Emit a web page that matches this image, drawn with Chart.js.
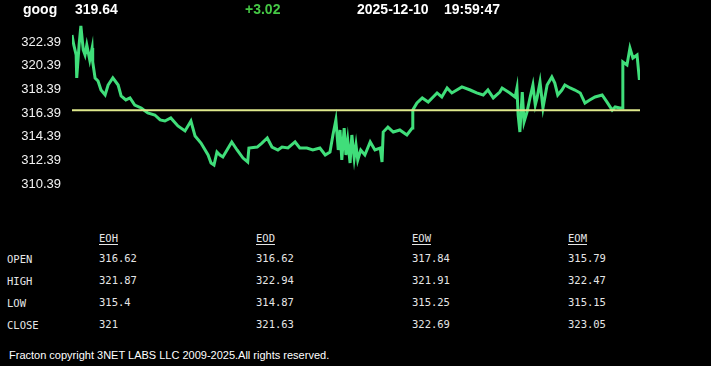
<!DOCTYPE html>
<html>
<head>
<meta charset="utf-8">
<script src="https://cdn.jsdelivr.net/npm/chart.js@4.4.1/dist/chart.umd.min.js"></script>
<style>
  html, body { margin: 0; padding: 0; background: #000; width: 711px; height: 366px; overflow: hidden; }
  #wrap { position: relative; width: 711px; height: 366px; }
  #chart { position: absolute; left: 0; top: 0; }
  .hd { position: absolute; top: 0; font: bold 14px "Liberation Sans", Arial, sans-serif; color: #fff; line-height: 18px; white-space: nowrap; }
  .tb { position: absolute; font: 10.5px "DejaVu Sans Mono", monospace; color: #e6e6e6; line-height: 14px; white-space: nowrap; }
  .tb.col { text-decoration: underline; text-underline-offset: 2px; }
  #foot { position: absolute; left: 9px; top: 348px; font: 11px "Liberation Sans", Arial, sans-serif; color: #fff; line-height: 14px; white-space: nowrap; }
</style>
</head>
<body>
<div id="wrap">
  <canvas id="chart" width="711" height="210"></canvas>
  <div class="hd" style="left:23px">goog</div>
  <div class="hd" style="left:75px">319.64</div>
  <div class="hd" style="left:245px;color:#45c845">+3.02</div>
  <div class="hd" style="left:357px">2025-12-10</div>
  <div class="hd" style="left:444px">19:59:47</div>
  <div id="table"></div>
  <div id="foot">Fracton copyright 3NET LABS LLC 2009-2025.All rights reserved.</div>
</div>
<script>
  // minutes since 04:00
  var times = [0, 3, 7, 8, 12, 15, 19, 22, 25, 30, 34, 35, 39, 44, 49, 56, 61, 69, 78, 83,
    91, 98, 106, 117, 128, 140, 149, 157, 167, 179, 191, 201, 208, 218, 230, 235, 240, 245, 250, 255,
    262, 270, 279, 289, 297, 299, 313, 321, 330, 338, 348, 355, 365, 377, 385, 397, 407, 419, 428, 436,
    441, 446, 450, 453, 456, 460, 463, 466, 470, 473, 477, 480, 483, 488, 495, 504, 512, 521, 524, 526,
    534, 543, 554, 566, 575, 576, 583, 592, 602, 617, 625, 634, 642, 659, 673, 684, 695, 703, 712, 723,
    727, 740, 749, 752, 754, 757, 761, 764, 769, 774, 779, 783, 786, 791, 796, 803, 811, 816, 821, 828,
    833, 842, 850, 859, 867, 875, 884, 896, 904, 913, 918, 926, 930, 931, 938, 943, 948, 955, 959];
  var prices = [322.98, 322.14, 321.29, 319.35, 322.14, 323.74, 321.71, 321.29, 322.14, 320.87, 321.88, 320.70, 319.35, 319.09, 318.33, 317.91, 318.75, 319.35, 318.75, 317.83,
    317.49, 317.66, 317.06, 316.81, 316.39, 316.22, 315.80, 315.71, 315.97, 315.29, 314.87, 315.71, 314.44, 313.85, 312.84, 312.16, 311.99, 313.09, 312.84, 312.67,
    313.26, 313.94, 313.26, 312.58, 312.25, 313.43, 313.51, 313.85, 314.28, 313.51, 313.26, 313.51, 313.43, 313.94, 313.43, 313.43, 313.26, 313.43, 312.84, 313.09,
    314.53, 315.80, 313.26, 314.95, 312.42, 315.12, 312.84, 314.11, 312.16, 314.53, 312.58, 313.68, 312.42, 313.26, 312.84, 313.94, 313.26, 313.43, 312.25, 314.78,
    315.20, 314.78, 314.95, 314.53, 315.12, 316.64, 317.23, 317.66, 317.32, 318.08, 317.74, 318.50, 318.08, 318.59, 318.33, 318.08, 317.91, 318.33, 317.66, 318.16,
    318.50, 318.08, 317.74, 318.50, 316.22, 314.78, 318.16, 315.63, 316.47, 317.66, 318.75, 317.06, 317.66, 319.01, 316.81, 318.75, 319.43, 318.92, 317.91, 318.33,
    318.75, 318.50, 318.33, 318.08, 317.23, 317.49, 317.74, 317.91, 317.32, 316.64, 316.90, 316.81, 316.81, 320.70, 320.45, 321.88, 321.04, 321.29, 319.18];
  var prevClose = 316.62;
  var yTicks = [310.39, 312.39, 314.39, 316.39, 318.39, 320.39, 322.39];

  var columns = ['EOH', 'EOD', 'EOW', 'EOM'];
  var rowNames = ['OPEN', 'HIGH', 'LOW', 'CLOSE'];
  var eohVals = ['316.62', '321.87', '315.4', '321'];
  var eodVals = ['316.62', '322.94', '314.87', '321.63'];
  var eowVals = ['317.84', '321.91', '315.25', '322.69'];
  var eomVals = ['315.79', '322.47', '315.15', '323.05'];

  // table
  var colX = [99, 256, 412, 568];
  var rowY = [251, 273, 295, 317];
  var colVals = [eohVals, eodVals, eowVals, eomVals];
  var html = '';
  columns.forEach(function(c, i) {
    html += '<div class="tb col" style="left:' + colX[i] + 'px;top:231px">' + c + '</div>';
  });
  rowNames.forEach(function(r, j) {
    html += '<div class="tb" style="left:7px;top:' + (rowY[j] + 1) + 'px">' + r + '</div>';
    colVals.forEach(function(vals, i) {
      html += '<div class="tb" style="left:' + colX[i] + 'px;top:' + rowY[j] + 'px">' + vals[j] + '</div>';
    });
  });
  document.getElementById('table').innerHTML = html;

  var priceData = times.map(function(t, i) { return { x: t, y: prices[i] }; });

  var ctx = document.getElementById('chart').getContext('2d');
  var priceChart = new Chart(ctx, {
    type: 'line',
    data: {
      datasets: [{
        data: [{ x: 0, y: prevClose }, { x: 960, y: prevClose }],
        borderColor: '#dfe98c',
        borderWidth: 2,
        pointRadius: 0,
        order: 0
      }, {
        data: priceData,
        borderColor: 'rgb(64, 222, 122)',
        borderWidth: 3,
        pointRadius: 0,
        tension: 0,
        order: 1
      }]
    },
    options: {
      responsive: false,
      animation: false,
      devicePixelRatio: 1,
      layout: { padding: { left: 0, right: 71, top: 18.3, bottom: 14.2 } },
      plugins: { legend: { display: false }, tooltip: { enabled: false } },
      scales: {
        x: { type: 'linear', min: 0, max: 960, display: false },
        y: {
          min: 309.39,
          max: 324.39,
          border: { display: false },
          grid: { display: false, drawTicks: false },
          afterBuildTicks: function(scale) {
            scale.ticks = yTicks.map(function(v) { return { value: v }; });
          },
          afterFit: function(scale) {
            scale.width = 72;
            scale.paddingTop = 0;
            scale.paddingBottom = 0;
          },
          ticks: {
            color: '#f2f2f2',
            padding: 11,
            font: { family: '"Liberation Sans", Arial, sans-serif', size: 13 },
            callback: function(v) { return Number(v).toFixed(2); }
          }
        }
      }
    }
  });
  console.log(JSON.stringify(priceChart.chartArea));
</script>
</body>
</html>
